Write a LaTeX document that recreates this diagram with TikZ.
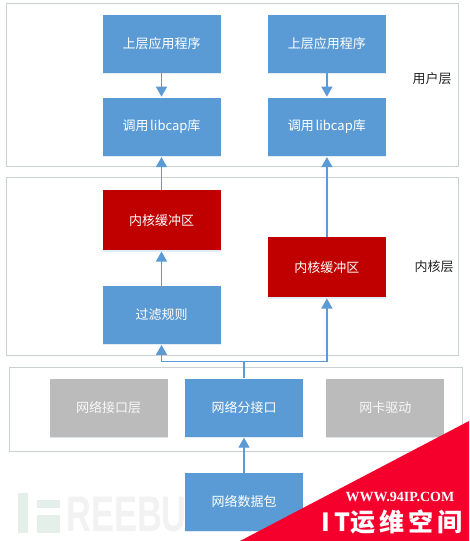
\documentclass[tikz,border=0pt]{standalone}
\usepackage{fontspec}
\setmainfont{Noto Sans CJK SC}
\newfontfamily\wwwfont{Liberation Serif}
\newfontfamily\markfont{Liberation Sans}
\usetikzlibrary{arrows.meta, positioning, shadows}
\definecolor{boxblue}{HTML}{5B9BD5}
\definecolor{boxred}{HTML}{C00000}
\definecolor{boxgray}{HTML}{BBBBBB}
\definecolor{layerline}{HTML}{CBD0D3}
\definecolor{bannerred}{HTML}{F5002D}
\definecolor{logotint}{HTML}{E4EFEA}
\tikzset{
  block/.style={
    rectangle, draw=none, fill=boxblue, text=white, inner sep=0pt,
    minimum width=118pt, minimum height=58pt,
    align=center, font=\fontsize{13}{15}\selectfont,
    drop shadow={shadow xshift=0pt, shadow yshift=-1.5pt, opacity=.3, fill=boxblue!60}
  },
  buffer/.style={block, fill=boxred, minimum height=60pt},
  idle/.style={block, fill=boxgray, text=white!90!boxgray,
    drop shadow={shadow xshift=0pt, shadow yshift=-1.5pt, opacity=.3, fill=gray!40}},
  layer/.style={
    rectangle, draw=layerline, line width=1pt, fill=white, inner sep=0pt, anchor=north west
  },
  tag/.style={font=\fontsize{13}{15}\selectfont, text=black!85},
  arrow/.style={-{Triangle[width=11pt,length=10pt]}, line width=1.3pt, draw=boxblue, shorten >=1pt}
}

\begin{document}
\begin{tikzpicture}[x=1pt, y=-1pt, node distance=25pt and 48pt]
  \useasboundingbox (0,0) rectangle (469,541);
  \fill[white] (0,0) rectangle (469,541);

  % watermark
  \fill[logotint] (18,493) rectangle (28,533);
  \fill[logotint] (37,500) rectangle (60,508);
  \fill[logotint] (37,515) rectangle (60,533);
  \node[anchor=west, inner sep=0pt, transform shape, xscale=.69, text=gray!10,
    font=\markfont\bfseries\fontsize{50}{50}\selectfont] (mark) at (66,515) {REEBUF};

  \node[layer, minimum width=452pt, minimum height=163pt] (userlayer) at (6,3) {};
  \node[layer, minimum width=452pt, minimum height=178pt] (kernlayer) at (6,177) {};
  \node[layer, minimum width=453pt, minimum height=84pt] (netlayer) at (9,367) {};

  \node[block] (appa) at (161.5,43.5) {上层应用程序};
  \node[block, right=47pt of appa] (appb) {上层应用程序};
  \node[block, below=of appa] (liba) {调用\,\kern-.5pt libcap库};
  \node[block, below=of appb] (libb) {调用\,\kern-.5pt libcap库};
  \node[buffer, below=34pt of liba] (bufa) {内核缓冲区};
  \node[block, below=35pt of bufa] (rule) {过滤规则};
  \node[buffer, below=81pt of libb] (bufb) {内核缓冲区};

  \node[block] (split) at (244,407.5) {网络分接口};
  \node[idle, left=17pt of split] (iface) {网络接口层};
  \node[idle, right=23pt of split] (driver) {网卡驱动};
  \node[block, below=36pt of split] (packet) {网络数据包};

  \node[tag] (usertag) at (432,79) {用户层};
  \node[tag] (kerntag) at (434,267) {内核层};

  \coordinate[above=17pt of split] (bus);

  \draw[arrow] (appa) -- (liba);
  \draw[arrow] (appb) -- (libb);
  \draw[arrow] (bufa) -- (liba);
  \draw[arrow] (bufb) -- (libb);
  \draw[arrow] (rule) -- (bufa);
  \draw[arrow] (packet) -- (split);
  \draw[arrow] (split.north) -- (bus) -| (rule.south);
  \draw[arrow] (split.north) -- (bus) -| (bufb.south);

  % banner
  \fill[bannerred] (469,421) -- (469,541) -- (240,541) -- cycle;
  \node[text=white, font=\wwwfont\bfseries\fontsize{14}{15}\selectfont] (site) at (400,497) {WWW.94IP.COM};
  \node[text=white, font=\bfseries\fontsize{25}{28}\selectfont] (brand) at (392,522) {I\,T运\,维\,空\,间};
\end{tikzpicture}
\end{document}
